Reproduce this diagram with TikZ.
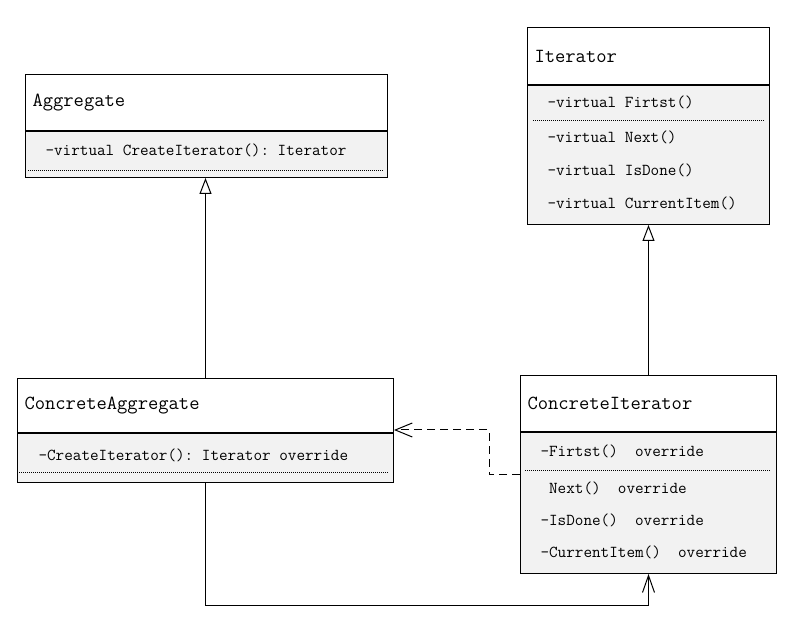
\documentclass[tikz,border=0pt]{standalone}
\usepackage{tikz}
\usetikzlibrary{arrows.meta,positioning}
\definecolor{bodygray}{RGB}{242,242,242}

\begin{document}
\frenchspacing
\begin{tikzpicture}[x=1pt,y=-1pt,line width=1pt,node distance=0pt]
  \tikzstyle{title}=[rectangle,draw=black,fill=white,inner xsep=7pt,align=left,
                     anchor=north west,font=\ttfamily\fontsize{20}{23}\selectfont]
  \tikzstyle{body}=[rectangle,draw=black,fill=bodygray,inner sep=0pt]
  \tikzstyle{method}=[anchor=west,inner sep=0pt,font=\ttfamily\fontsize{16.7}{19}\selectfont]
  \tikzstyle{sep}=[line width=0.6pt,dash pattern=on 1pt off 1pt]
  \tikzstyle{inherit}=[-{Triangle[open,length=16pt,width=12pt]}]
  \tikzstyle{depend}=[dash pattern=on 8pt off 5pt,-{Straight Barb[length=17pt,width=14pt]}]
  \tikzstyle{assoc}=[-{Straight Barb[length=17pt,width=12pt]}]

  \useasboundingbox (0,0) rectangle (788,617);

  \node[title,text width=348pt,minimum height=56pt] (aggT) at (25,74) {Aggregate};
  \node[body,minimum width=362pt,minimum height=46pt,below=of aggT] (aggB) {};
  \node[method] (aggM) at (45,150) {-virtual CreateIterator(): Iterator};
  \draw[sep] ([xshift=3pt,yshift=-39pt]aggB.north west) -- ([xshift=-5pt,yshift=-39pt]aggB.north east);

  \node[title,text width=228pt,minimum height=57pt] (itT) at (527,27) {Iterator};
  \node[body,minimum width=242pt,minimum height=139pt,below=of itT] (itB) {};
  \node[method] (itF) at (547,102) {-virtual Firtst()};
  \node[method] (itN) at (547,137) {-virtual Next()};
  \node[method] (itD) at (547,170) {-virtual IsDone()};
  \node[method] (itC) at (547,203) {-virtual CurrentItem()};
  \draw[sep] ([xshift=6pt,yshift=-35pt]itB.north west) -- ([xshift=-6pt,yshift=-35pt]itB.north east);

  \node[title,text width=362pt,minimum height=54pt] (caT) at (17,378) {ConcreteAggregate};
  \node[body,minimum width=376pt,minimum height=49pt,below=of caT] (caB) {};
  \node[method] (caM) at (38,455) {-CreateIterator(): Iterator override};
  \draw[sep] ([xshift=2pt,yshift=-39pt]caB.north west) -- ([xshift=-6pt,yshift=-39pt]caB.north east);

  \node[title,text width=242pt,minimum height=56pt] (ciT) at (520,375) {ConcreteIterator};
  \node[body,minimum width=256pt,minimum height=141pt,below=of ciT] (ciB) {};
  \node[method] (ciF) at (540,451) {-Firtst()~~override};
  \node[method] (ciN) at (540,488) {~Next()~~override};
  \node[method] (ciD) at (540,520) {-IsDone()~~override};
  \node[method] (ciC) at (540,552) {-CurrentItem()~~override};
  \draw[sep] ([xshift=5pt,yshift=-38pt]ciB.north west) -- ([xshift=-6pt,yshift=-38pt]ciB.north east);

  % relations
  \draw[inherit] (caT.north) -- (caT.north |- aggB.south);
  \draw[inherit] (ciT.north) -- (ciT.north |- itB.south);
  \draw[depend] ([yshift=-43pt]ciB.north west) -- ++(-31,0) |- ([yshift=3pt]caT.south east);
  \draw[assoc] (caB.south) -- ++(0,123) -| (ciB.south);

\end{tikzpicture}
\end{document}
